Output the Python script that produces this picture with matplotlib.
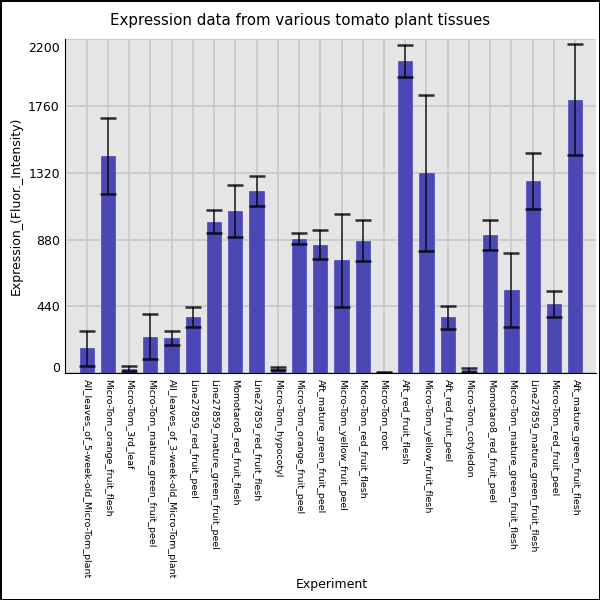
import matplotlib
matplotlib.use("Agg")
import matplotlib.pyplot as plt
import matplotlib.transforms as mtransforms
import numpy as np

experiments = [
    "All_leaves_of_5-week-old_Micro-Tom_plant",
    "Micro-Tom_orange_fruit_flesh",
    "Micro-Tom_3rd_leaf",
    "Micro-Tom_mature_green_fruit_peel",
    "All_leaves_of_3-week-old_Micro-Tom_plant",
    "Line27859_red_fruit_peel",
    "Line27859_mature_green_fruit_peel",
    "Momotaro8_red_fruit_flesh",
    "Line27859_red_fruit_flesh",
    "Micro-Tom_hypocotyl",
    "Micro-Tom_orange_fruit_peel",
    "Aft_mature_green_fruit_peel",
    "Micro-Tom_yellow_fruit_peel",
    "Micro-Tom_red_fruit_flesh",
    "Micro-Tom_root",
    "Aft_red_fruit_flesh",
    "Micro-Tom_yellow_fruit_flesh",
    "Aft_red_fruit_peel",
    "Micro-Tom_cotyledon",
    "Momotaro8_red_fruit_peel",
    "Micro-Tom_mature_green_fruit_flesh",
    "Line27859_mature_green_fruit_flesh",
    "Micro-Tom_red_fruit_peel",
    "Aft_mature_green_fruit_flesh",
]
expression = [165, 1430, 30, 240, 232, 370, 998, 1068, 1200, 30, 885, 846,
              742, 872, 5, 2055, 1320, 368, 20, 912, 550, 1266, 456, 1800]
errors = [115, 252, 18, 148, 48, 66, 76, 173, 100, 8, 37, 97,
          309, 135, 3, 105, 513, 74, 14, 98, 243, 184, 86, 365]
y_ticks = [0, 440, 880, 1320, 1760, 2200]

fig = plt.figure(figsize=(6, 6), dpi=100, edgecolor="black", linewidth=2)
ax = fig.add_axes([0.109, 0.378, 0.885, 0.557])

x = np.arange(len(experiments))
ax.set_facecolor("#e5e5e5")
ax.set_axisbelow(True)
ax.grid(True, color="#c8c8c8", linewidth=1.2)
ax.bar(x, expression, width=0.67, color="#4b47b4", edgecolor="#5a56c0",
       linewidth=0.6, zorder=2)
ax.errorbar(x, expression, yerr=errors, fmt="none", ecolor="black",
            elinewidth=1.2, capsize=6, capthick=1.8, alpha=0.8, zorder=3)

ax.set_xlim(-1, 24)
ax.set_ylim(0, 2200)
ax.set_xticks(x)
ax.set_xticklabels(experiments, rotation=270, fontsize=6.8, va="top", ha="center")
ax.set_yticks(y_ticks)
ax.set_yticklabels([str(t) for t in y_ticks], fontsize=9)
ax.tick_params(axis="both", length=0, pad=4)

# nudge end labels inside the axis range
labels = ax.get_yticklabels()
labels[0].set_transform(labels[0].get_transform() +
                        mtransforms.ScaledTranslation(0, 6 / 100, fig.dpi_scale_trans))
labels[-1].set_transform(labels[-1].get_transform() +
                         mtransforms.ScaledTranslation(0, -8 / 100, fig.dpi_scale_trans))

for side in ["top", "right"]:
    ax.spines[side].set_visible(False)
ax.spines["left"].set_color("black")
ax.spines["bottom"].set_color("black")

fig.text(0.5, 0.965, "Expression data from various tomato plant tissues",
         fontsize=10.8, ha="center", va="center")
ax.set_ylabel("Expression_(Fluor._Intensity)", fontsize=9)
fig.text(0.553, 0.02, "Experiment", fontsize=9, ha="center")

fig.savefig("out.png", dpi=100, edgecolor=fig.get_edgecolor())
